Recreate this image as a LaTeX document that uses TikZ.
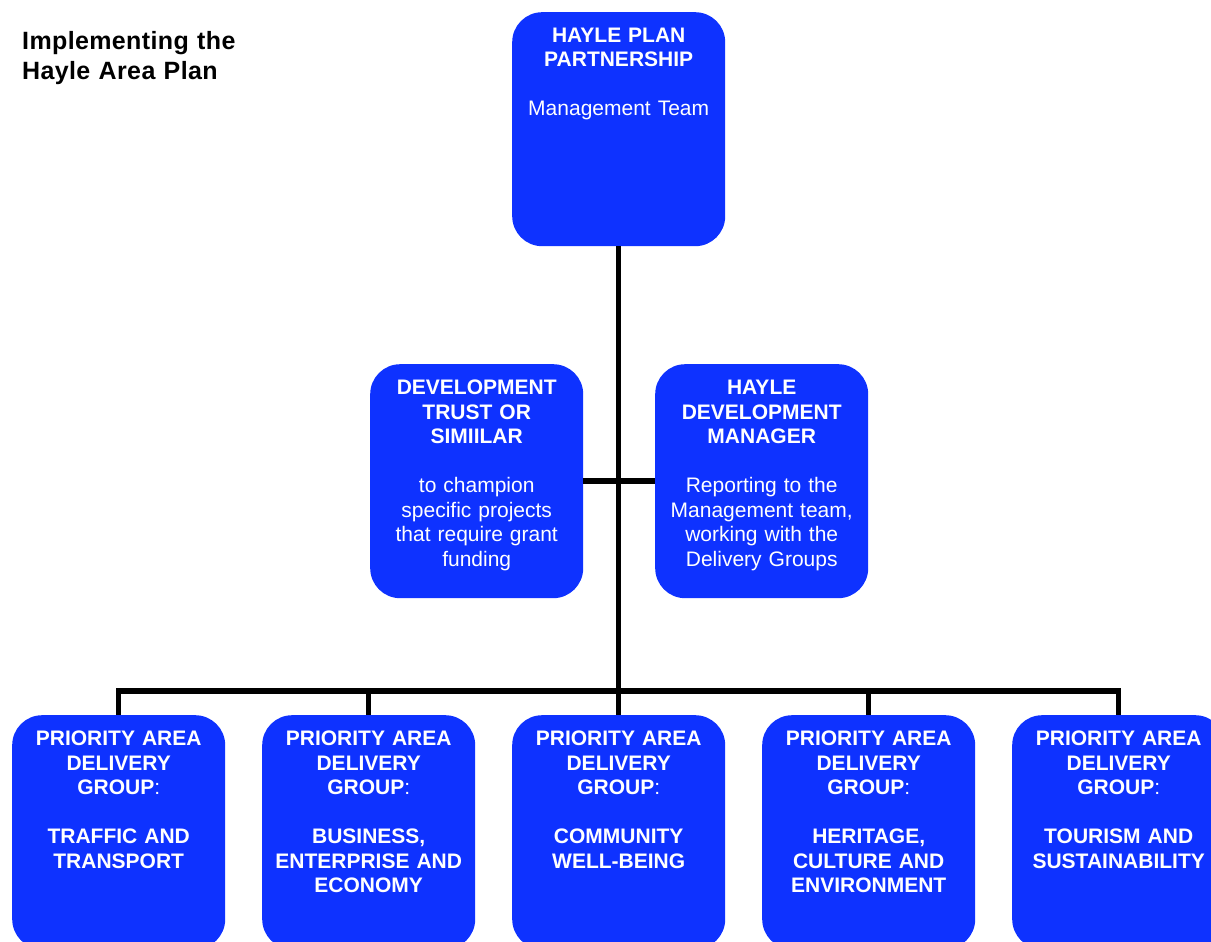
\documentclass[tikz,border=0pt]{standalone}
\usepackage{fontspec}
\setmainfont{Liberation Sans}
\definecolor{boxblue}{RGB}{14,50,255}
\begin{document}
\begin{tikzpicture}[x=1pt,y=-1pt,
  box/.style={fill=boxblue, rounded corners=30pt, minimum width=213pt, minimum height=234pt, inner sep=0pt, anchor=north west},
  txt/.style={text=white, font=\fontsize{21}{24.5}\selectfont, align=center, anchor=base, inner sep=0pt, text width=205pt},
  conn/.style={line width=5.5pt, draw=black}]
\useasboundingbox (0,0) rectangle (1211,942);
\clip (0,0) rectangle (1211,942);
% title
\node[anchor=base west, inner sep=0pt, align=left, text width=280pt, font=\bfseries\fontsize{25}{30}\selectfont\addfontfeature{LetterSpace=1.5}] (title) at (22,50) {Implementing the\\Hayle Area Plan};
% boxes
\node[box] (top) at (512,12) {};
\node[box] (dt) at (370,364) {};
\node[box] (hdm) at (655,364) {};
\node[box] (b1) at (12,715) {};
\node[box] (b2) at (262,715) {};
\node[box] (b3) at (512,715) {};
\node[box] (b4) at (762,715) {};
\node[box] (b5) at (1012,715) {};
% connectors
\coordinate (busy) at (0,691);
\draw[conn] (top.south) -- (top.south |- busy);
\draw[conn] (dt.east) -- (hdm.west);
\draw[conn] (b1.north) -- (b1.north |- busy) -- (b5.north |- busy) -- (b5.north);
\draw[conn] (b2.north) -- (b2.north |- busy);
\draw[conn] (b3.north) -- (b3.north |- busy);
\draw[conn] (b4.north) -- (b4.north |- busy);
% texts
\node[txt] (toptxt) at ([yshift=-30.5pt]top.north) {\textbf{HAYLE PLAN}\\\textbf{PARTNERSHIP}\\ ~ \\Management Team};
\node[txt] (dttxt) at ([yshift=-30.5pt]dt.north) {\textbf{DEVELOPMENT}\\\textbf{TRUST OR}\\\textbf{SIMIILAR}\\ ~ \\to champion\\specific projects\\that require grant\\funding};
\node[txt] (hdmtxt) at ([yshift=-30.5pt]hdm.north) {\textbf{HAYLE}\\\textbf{DEVELOPMENT}\\\textbf{MANAGER}\\ ~ \\Reporting to the\\Management team,\\working with the\\Delivery Groups};
\node[txt] (b1txt) at ([yshift=-30.5pt]b1.north) {\bfseries PRIORITY AREA\\DELIVERY\\GROUP{\mdseries:}\\ ~ \\TRAFFIC AND\\TRANSPORT};
\node[txt] (b2txt) at ([yshift=-30.5pt]b2.north) {\bfseries PRIORITY AREA\\DELIVERY\\GROUP{\mdseries:}\\ ~ \\BUSINESS,\\ENTERPRISE AND\\ECONOMY};
\node[txt] (b3txt) at ([yshift=-30.5pt]b3.north) {\bfseries PRIORITY AREA\\DELIVERY\\GROUP{\mdseries:}\\ ~ \\COMMUNITY\\WELL-BEING};
\node[txt] (b4txt) at ([yshift=-30.5pt]b4.north) {\bfseries PRIORITY AREA\\DELIVERY\\GROUP{\mdseries:}\\ ~ \\HERITAGE,\\CULTURE AND\\ENVIRONMENT};
\node[txt] (b5txt) at ([yshift=-30.5pt]b5.north) {\bfseries PRIORITY AREA\\DELIVERY\\GROUP{\mdseries:}\\ ~ \\TOURISM AND\\SUSTAINABILITY};
\end{tikzpicture}
\end{document}
